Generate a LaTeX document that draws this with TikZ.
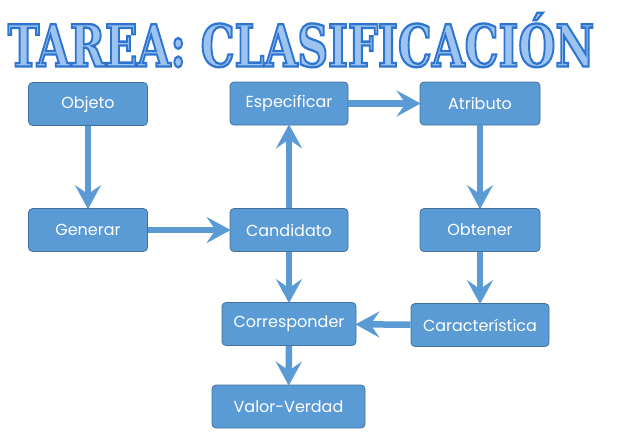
\documentclass[tikz,border=0pt]{standalone}
\usepackage{fontspec}
\setmainfont{Poppins}
\newfontfamily\titlefont{DejaVu Serif Condensed}
\usepackage{tikz}
\usetikzlibrary{arrows.meta}

\definecolor{boxblue}{HTML}{5B9BD5}
\definecolor{boxline}{HTML}{41719C}
\definecolor{titlefill}{HTML}{9DC3F0}
\definecolor{titleline}{HTML}{2E75CF}

\tikzset{
  task/.style={draw=boxline, fill=boxblue, rounded corners=4pt, line width=0.8pt,
    text=white, font=\fontsize{16}{18}\selectfont, minimum height=43pt},
  flow/.style={draw=boxblue, line width=6.5pt, -{Stealth[length=24pt, width=26pt, inset=9pt]}, shorten >=-1pt}
}

\begin{document}
\begin{tikzpicture}[x=1pt, y=-1pt]
        \useasboundingbox (0,0) rectangle (617,436);

        % title
        \node (Title) [text=titlefill, xscale=1.18, yscale=1.45, transform shape,
          font=\titlefont\bfseries\fontsize{40}{40}\selectfont] at (301,40)
          {\special{pdf:code 2 Tr 1.6 w 0.18 0.46 0.81 RG}TAREA: CLASIFICACIÓN\special{pdf:code 0 Tr}};

        % boxes
        \node (Objeto) [task, minimum width=119pt] at (88,104) {Objeto};
        \node (Especificar) [task, minimum width=118pt] at (289,103.5) {Especificar};
        \node (Atributo) [task, minimum width=120pt] at (480,103.5) {Atributo};
        \node (Generar) [task, minimum width=119pt] at (88,230) {Generar};
        \node (Candidato) [task, minimum width=118pt] at (289,230) {Candidato};
        \node (Obtener) [task, minimum width=120pt] at (480,230) {Obtener};
        \node (Corresponder) [task, minimum width=134pt] at (289,324) {Corresponder};
        \node (Caracteristica) [task, minimum width=138pt] at (480,325) {Característica};
        \node (ValorVerdad) [task, minimum width=153pt] at (288.5,406.5) {Valor-Verdad};

        % connectors
        \draw [flow] (Objeto) -- (Generar);
        \draw [flow] (Generar) -- (Candidato);
        \draw [flow] (Candidato) -- (Especificar);
        \draw [flow] (Especificar) -- (Atributo);
        \draw [flow] (Atributo) -- (Obtener);
        \draw [flow] (Obtener) -- (Caracteristica);
        \draw [flow] (Candidato) -- (Corresponder);
        \draw [flow] (Caracteristica) -- (Corresponder);
        \draw [flow] (Corresponder) -- (ValorVerdad);
      \end{tikzpicture}
\end{document}
